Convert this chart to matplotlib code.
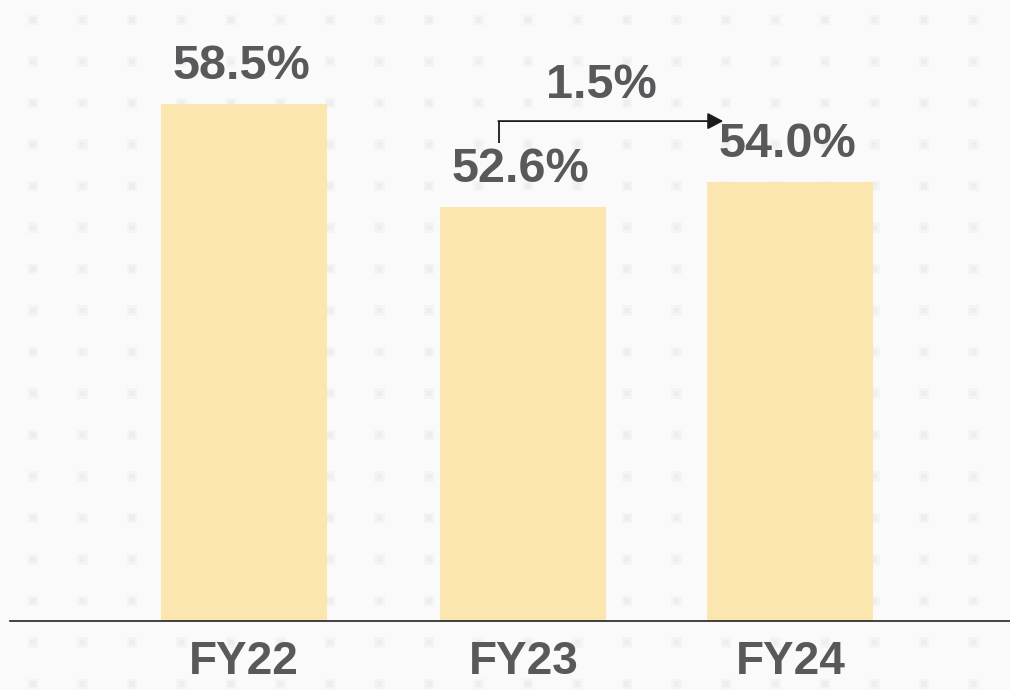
import numpy as np
import matplotlib
matplotlib.use("Agg")
import matplotlib.pyplot as plt
import matplotlib.transforms as mtransforms

# Data
categories = ["FY22", "FY23", "FY24"]
values = [58.5, 52.6, 54.0]
value_labels = ["58.5%", "52.6%", "54.0%"]
change_label = "1.5%"

# Layout
positions = [0.0, 1.0, 1.955]
bar_color = "#fce6b0"
text_color = "#58595b"
bg_color = "#fafafa"
font = ["Liberation Sans", "DejaVu Sans"]

fig = plt.figure(figsize=(10.10, 6.90), dpi=100, facecolor=bg_color)

# faint background texture
bg = fig.add_axes([0, 0, 1, 1], zorder=0)
bg.set_xlim(0, 1010)
bg.set_ylim(690, 0)
bg.axis("off")
gx, gy = np.meshgrid(np.arange(33, 1010, 49.5), np.arange(20, 690, 41.5))
bg.scatter(gx.ravel(), gy.ravel(), marker="s", s=60, color="#f4f4f4",
           edgecolors="none")
bg.scatter(gx.ravel(), gy.ravel(), marker="s", s=16, color="#eeeeee",
           edgecolors="none")

ax = fig.add_axes([10 / 1010, 0.1, 1000 / 1010, 0.9], zorder=1)
ax.patch.set_alpha(0)

bars = ax.bar(positions, values, width=0.594, color=bar_color, zorder=2)
ax.set_xlim(-0.837, 2.741)
ax.set_ylim(28.88, 64.45)

for spine in ["top", "right", "left"]:
    ax.spines[spine].set_visible(False)
ax.spines["bottom"].set_color("#222222")
ax.spines["bottom"].set_linewidth(1.2)
ax.set_yticks([])
ax.set_xticks(positions)
ax.set_xticklabels(categories, fontsize=33, fontweight="bold",
                   color=text_color, family=font)
ax.tick_params(axis="x", length=0, pad=14)

for x, v, lab in zip(positions, values, value_labels):
    ax.annotate(lab, xy=(x, v), xytext=(-2, 18), textcoords="offset points",
                ha="center", va="baseline", fontsize=35, fontweight="bold",
                color=text_color, family=font)

# change arrow
trans = mtransforms.blended_transform_factory(ax.transData, ax.transAxes)
x0 = positions[1] - 0.088
x1 = positions[2] - 0.24
ax.plot([x0, x0], [0.770, 0.805], color="#1a1a1a", lw=1.3,
        transform=trans, zorder=3, solid_capstyle="butt")
ax.annotate("", xy=(x1, 0.805), xytext=(x0 - 0.002, 0.805),
            xycoords=trans, textcoords=trans,
            arrowprops=dict(arrowstyle="-|>,head_length=0.95,head_width=0.5",
                            color="#1a1a1a", lw=1.3, shrinkA=0, shrinkB=0))
ax.text((positions[1] + positions[2]) / 2 - 0.2, 0.842, change_label,
        transform=trans, ha="center", va="baseline", fontsize=35,
        fontweight="bold", color=text_color, family=font)

fig.savefig("out.png", dpi=100, facecolor=bg_color)
